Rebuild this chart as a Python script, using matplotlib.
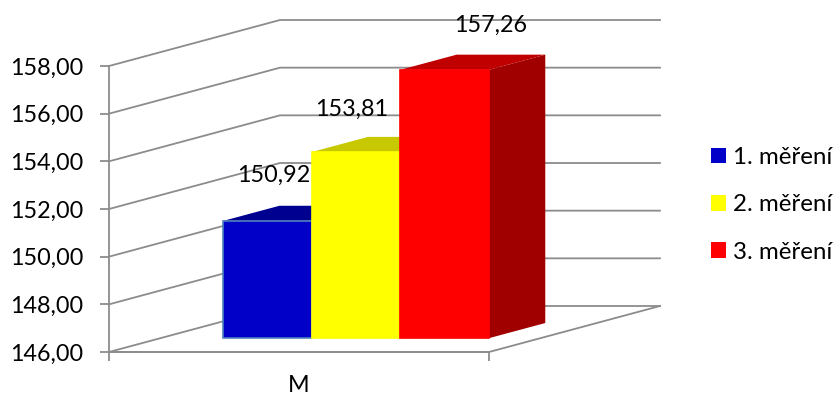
import matplotlib
matplotlib.use("Agg")
import matplotlib.pyplot as plt
from matplotlib.patches import Polygon, Patch
from matplotlib.ticker import FuncFormatter

category = "M"
series_names = ["1. měření", "2. měření", "3. měření"]
series_values = [150.92, 153.81, 157.26]
value_ticks = [146, 148, 150, 152, 154, 156, 158]

front_colors = ["#0000C8", "#FFFF00", "#FF0000"]
top_colors = ["#000090", "#C8C800", "#C00000"]
side_colors = ["#000078", "#A0A000", "#A00000"]
edge_colors = ["#4F81BD", "#FFFF00", "#FF0000"]
grid_color = "#8C8C8C"

W, H = 838, 396
AX_L, AX_R, AX_T, AX_B = 109, 489, 66, 352
FONT = 16.8
LINE = 1.3

plt.rcParams["font.family"] = ["Lato", "DejaVu Sans"]

fig = plt.figure(figsize=(W / 100, H / 100), dpi=100, facecolor="white")
ax = fig.add_axes([AX_L / W, 1 - AX_B / H, (AX_R - AX_L) / W, (AX_B - AX_T) / H])
ax.set_xlim(0, 1)
ax.set_ylim(146, 158)
ax.patch.set_alpha(0)

# oblique depth vector, in data units, for the full chart depth
DEPTH_X = 171 / (AX_R - AX_L)
DEPTH_Y = 46 / ((AX_B - AX_T) / 12)


def project(x, value, depth=0.0):
    return (x + depth * DEPTH_X, value + depth * DEPTH_Y)


# walls: gridlines run back from the value axis and across the rear wall
for v in value_ticks:
    pts = [project(0, v), project(0, v, 1), project(1, v, 1)]
    ax.plot(*zip(*pts), color=grid_color, lw=LINE, clip_on=False, zorder=1,
            solid_joinstyle="miter")
floor = [project(0, 146), project(1, 146), project(1, 146, 1)]
ax.plot(*zip(*floor), color=grid_color, lw=LINE, clip_on=False, zorder=1)

# bars
BAR_W = 0.2332
BAR_X0 = 0.1650
D0, D1 = 0.30, 0.63
base = 146
for i, v in enumerate(series_values):
    x0 = BAR_X0 + i * BAR_W
    x1 = x0 + BAR_W
    z = 3 + i
    side = [project(x1, base, D0), project(x1, base, D1), project(x1, v, D1), project(x1, v, D0)]
    top = [project(x0, v, D0), project(x1, v, D0), project(x1, v, D1), project(x0, v, D1)]
    front = [project(x0, base, D0), project(x1, base, D0), project(x1, v, D0), project(x0, v, D0)]
    ax.add_patch(Polygon(side, closed=True, fc=side_colors[i], ec="none", clip_on=False, zorder=z))
    ax.add_patch(Polygon(top, closed=True, fc=top_colors[i], ec="none", clip_on=False, zorder=z))
    ax.add_patch(Polygon(front, closed=True, fc=front_colors[i], ec=edge_colors[i], lw=1.2,
                         clip_on=False, zorder=z + 0.5))

# value labels sit above the bars, nudged by hand
label_offsets = [(4.5, 32.5), (-3, 31), (33, 32)]
for i, v in enumerate(series_values):
    x = BAR_X0 + (i + 0.5) * BAR_W
    ax.annotate(f"{v:.2f}".replace(".", ","), xy=project(x, v, D0), xytext=label_offsets[i],
                textcoords="offset points", ha="center", va="center", fontsize=FONT,
                color="black", zorder=10, annotation_clip=False)

# axes
for s in ("top", "right"):
    ax.spines[s].set_visible(False)
for s in ("left", "bottom"):
    ax.spines[s].set_color(grid_color)
    ax.spines[s].set_linewidth(LINE)
    ax.spines[s].set_zorder(2)
ax.set_yticks(value_ticks)
ax.yaxis.set_major_formatter(FuncFormatter(lambda v, _: f"{v:.2f}".replace(".", ",")))
ax.tick_params(axis="y", length=6.5, width=LINE, color=grid_color, pad=12, labelsize=FONT)
ax.set_xticks([0, 1])
ax.set_xticklabels(["", ""])
ax.tick_params(axis="x", which="major", length=6.5, width=LINE, color=grid_color)
ax.set_xticks([0.5], labels=[category], minor=True)
ax.tick_params(axis="x", which="minor", length=0, pad=16.5, labelsize=FONT)

# legend
LEG_FONT = 17.4
em = LEG_FONT * 100 / 72
handles = [Patch(fc=c, ec="none", label=n) for c, n in zip(front_colors, series_names)]
fig.legend(handles=handles, loc="upper left", bbox_to_anchor=(711 / W, 1 - 147 / H),
           bbox_transform=fig.transFigure, frameon=False, fontsize=LEG_FONT,
           handlelength=15 / em, handleheight=15 / em, handletextpad=7 / em,
           labelspacing=1.09, borderpad=0, borderaxespad=0)

fig.savefig("out.png", dpi=100, facecolor="white")
